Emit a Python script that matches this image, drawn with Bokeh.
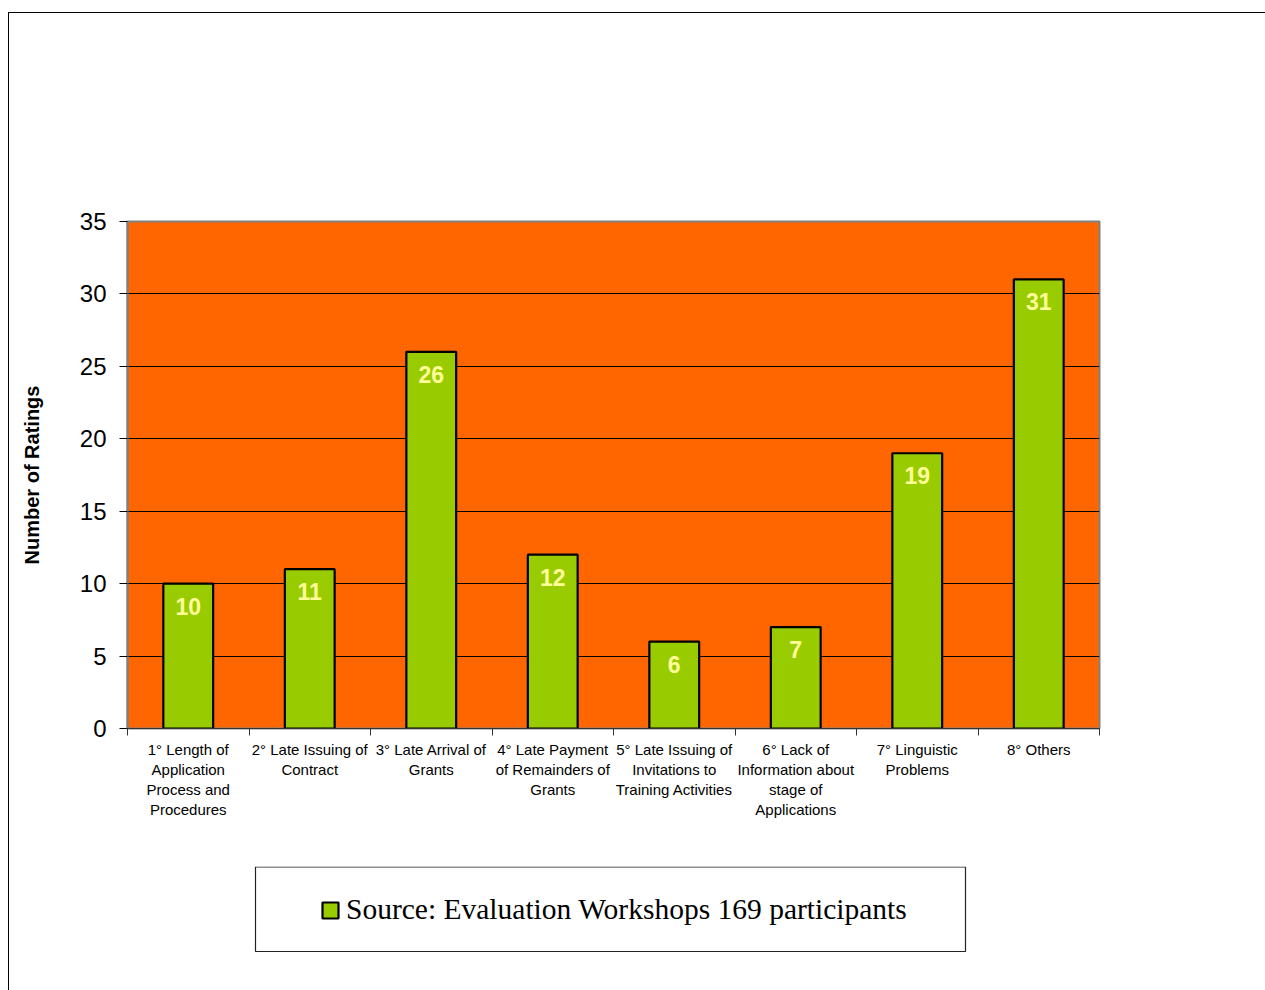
from bokeh.plotting import figure
from bokeh.layouts import column
from bokeh.models import (Range1d, FixedTicker, Legend, LegendItem, BoxAnnotation,
                          ColumnDataSource, InlineStyleSheet)
from bokeh.core.properties import value
from bokeh.embed import file_html
from bokeh.resources import INLINE

# Survey categories (rank + problem) and the number of ratings each received
categories = [
    "1° Length of\nApplication\nProcess and\nProcedures",
    "2° Late Issuing of\nContract",
    "3° Late Arrival of\nGrants",
    "4° Late Payment\nof Remainders of\nGrants",
    "5° Late Issuing of\nInvitations to\nTraining Activities",
    "6° Lack of\nInformation about\nstage of\nApplications",
    "7° Linguistic\nProblems",
    "8° Others",
]
ratings = [10, 11, 26, 12, 6, 7, 19, 31]
y_ticks = [0, 5, 10, 15, 20, 25, 30, 35]
series_name = "Source: Evaluation Workshops 169 participants"

BAR_FILL = "#99CC00"
positions = list(range(len(categories)))
source = ColumnDataSource(dict(x=positions, top=ratings,
                               label=[str(v) for v in ratings]))

W = 1265
CHART_H = 866      # chart area height
LEGEND_H = 124     # legend strip height below it
FRAME_L, FRAME_R = 127, 1099


def page_edge(top):
    border_top = "border-top: 1.5px solid black;" if top else ""
    return InlineStyleSheet(css=f"""
:host {{ position: relative; }}
:host::after {{
  content: "";
  position: absolute;
  left: 8px; top: {12 if top else 0}px; right: 0; bottom: 0;
  border-left: 1.5px solid black;
  {border_top}
  pointer-events: none;
}}
""")


# ---------------------------------------------------------------- bar chart
p = figure(width=W, height=CHART_H, output_backend="svg", toolbar_location=None,
           x_range=Range1d(-0.5, len(categories) - 0.5),
           y_range=Range1d(0, 35),
           min_border_left=FRAME_L, min_border_right=W - FRAME_R,
           min_border_top=221, min_border_bottom=138,
           stylesheets=[page_edge(True)])

p.background_fill_color = "#FF6600"
p.border_fill_color = "white"
p.outline_line_color = "#808080"
p.outline_line_width = 2

bars = p.vbar(x="x", top="top", bottom=0, width=0.41, source=source,
              fill_color=BAR_FILL, line_color="black", line_width=2.2)

# Value labels inside the top of each bar
p.text(x="x", y="top", text="label", source=source,
       text_align="center", text_baseline="top", y_offset=14,
       text_font=value("Liberation Sans"), text_font_style="bold",
       text_font_size="23px", text_color="#FFFF99")

# Y axis
p.yaxis.ticker = FixedTicker(ticks=y_ticks)
p.yaxis.axis_line_color = "#808080"
p.yaxis.axis_line_width = 2
p.yaxis.major_tick_line_color = "black"
p.yaxis.major_tick_out = 8
p.yaxis.major_tick_in = 0
p.yaxis.minor_tick_line_color = None
p.yaxis.major_label_text_font = "Liberation Sans"
p.yaxis.major_label_text_font_size = "24px"
p.yaxis.major_label_text_color = "black"
p.yaxis.major_label_standoff = 13
p.yaxis.axis_label = "Number of Ratings"
p.yaxis.axis_label_text_font = "Liberation Sans"
p.yaxis.axis_label_text_font_style = "bold"
p.yaxis.axis_label_text_font_size = "20px"
p.yaxis.axis_label_text_color = "black"
p.yaxis.axis_label_standoff = 34

# X axis: labels at bar centres, tick marks at category boundaries
p.xaxis.ticker = FixedTicker(ticks=positions,
                             minor_ticks=[i - 0.5 for i in range(len(categories) + 1)])
p.xaxis.major_label_overrides = {i: c for i, c in zip(positions, categories)}
p.xaxis.major_tick_out = 0
p.xaxis.major_tick_in = 0
p.xaxis.minor_tick_out = 7
p.xaxis.minor_tick_in = 0
p.xaxis.minor_tick_line_color = "#333333"
p.xaxis.axis_line_color = "#333333"
p.xaxis.axis_line_width = 1
p.xaxis.major_label_text_font = "Liberation Sans"
p.xaxis.major_label_text_font_size = "15px"
p.xaxis.major_label_text_color = "black"
p.xaxis.major_label_text_line_height = 1.18
p.xaxis.major_label_standoff = 5

# Grid
p.xgrid.grid_line_color = None
p.ygrid.ticker = FixedTicker(ticks=y_ticks[1:-1])
p.ygrid.grid_line_color = "black"
p.ygrid.grid_line_width = 1

# ---------------------------------------------------------------- legend strip
# its frame lines up with the chart frame; ranges are in page pixels
leg = figure(width=W, height=LEGEND_H, output_backend="svg", toolbar_location=None,
             x_range=Range1d(FRAME_L, FRAME_R),
             y_range=Range1d(CHART_H + LEGEND_H, CHART_H),
             x_axis_type=None, y_axis_type=None,
             min_border_left=FRAME_L, min_border_right=W - FRAME_R,
             min_border_top=0, min_border_bottom=0,
             stylesheets=[page_edge(False)])
leg.outline_line_color = None
leg.background_fill_color = "white"
leg.border_fill_color = "white"

leg.add_layout(BoxAnnotation(left=255, right=965, top=866.5, bottom=951,
                             fill_alpha=0, line_color="#222222",
                             line_alpha=1, line_width=1.2))

# hidden copy of the bar series, used only for the legend swatch
swatch = leg.vbar(x="x", top="top", bottom=0, width=0.41, source=source,
                  fill_color=BAR_FILL, line_color="black", line_width=2.2,
                  visible=False)

legend = Legend(items=[LegendItem(label=series_name, renderers=[swatch])],
                location=(320 - FRAME_L, 64), padding=0, margin=0,
                glyph_width=20, glyph_height=20, label_standoff=6,
                label_text_font="Liberation Serif", label_text_font_size="29.5px",
                label_text_color="black", click_policy="none",
                border_line_alpha=0, background_fill_alpha=0)
leg.add_layout(legend)

layout = column(p, leg, spacing=0)
open("out.html", "w").write(file_html(layout, INLINE))
